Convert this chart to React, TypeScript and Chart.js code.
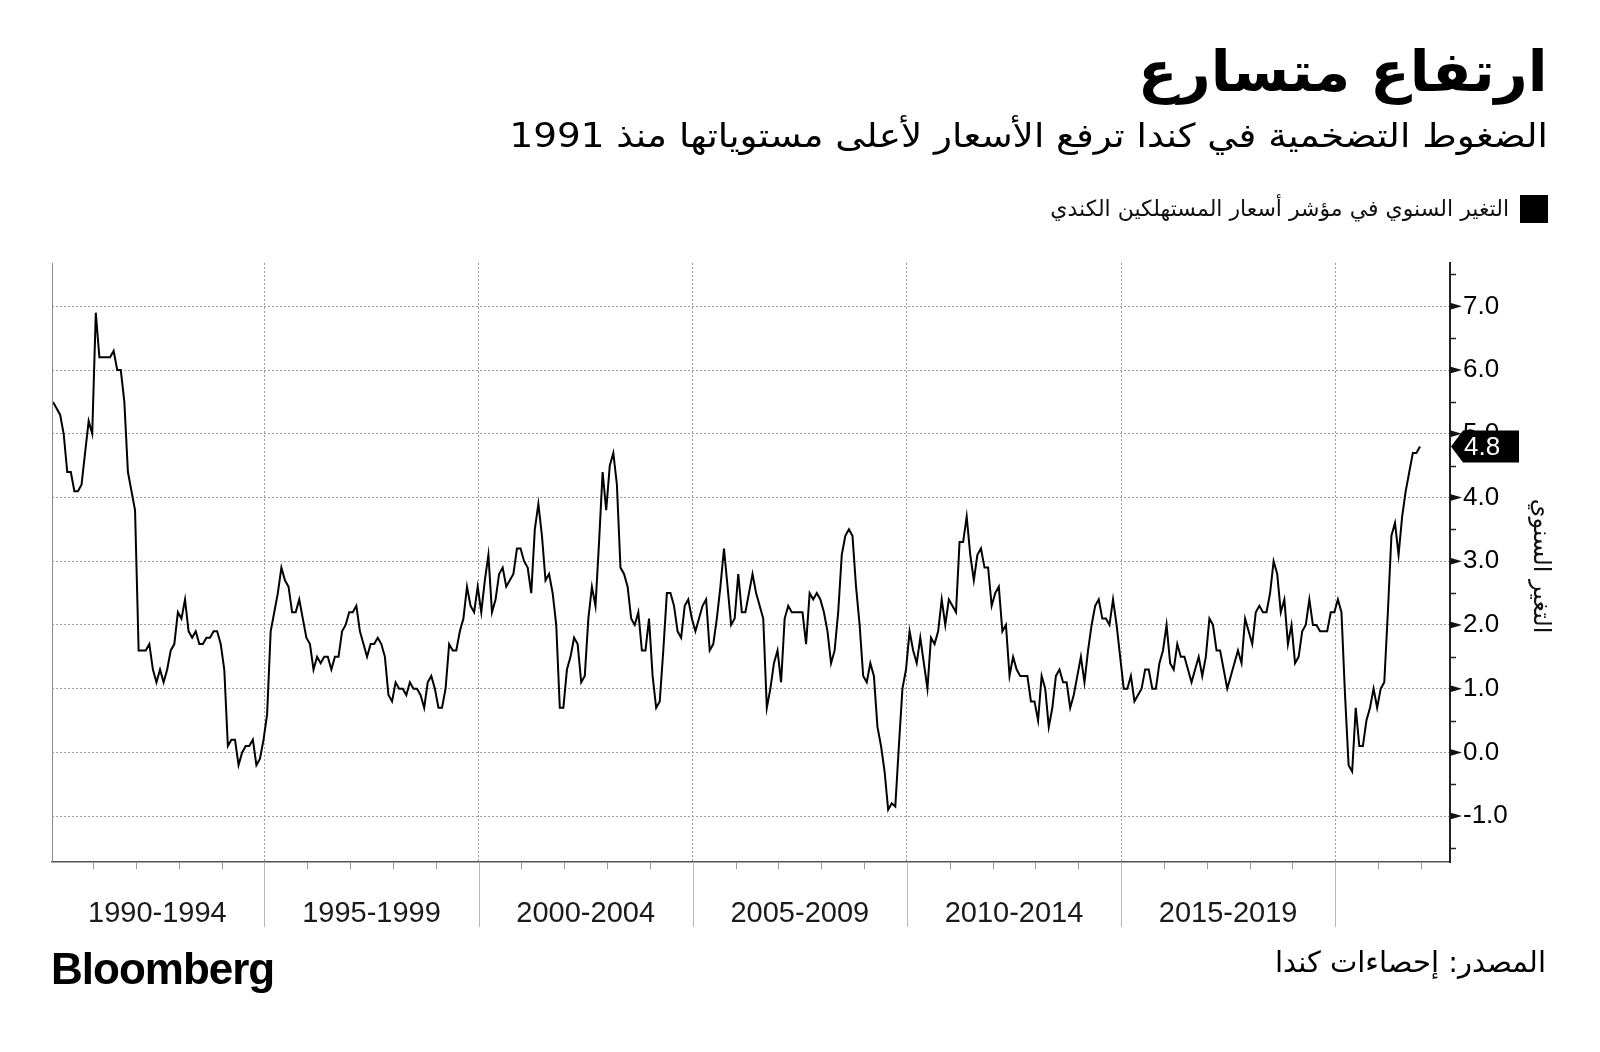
import React, { useEffect, useRef } from "react";
import { Chart, registerables } from "chart.js";

Chart.register(...registerables);

// Canada CPI, year-over-year % change, monthly, Jan 1990 – Dec 2021
const cpi1990to1994 = [
  5.5, 5.4, 5.3, 5.0, 4.4, 4.4, 4.1, 4.1, 4.2, 4.7, 5.2, 5.0,
  6.9, 6.2, 6.2, 6.2, 6.2, 6.3, 6.0, 6.0, 5.5, 4.4, 4.1, 3.8,
  1.6, 1.6, 1.6, 1.7, 1.3, 1.1, 1.3, 1.1, 1.3, 1.6, 1.7, 2.2,
  2.1, 2.4, 1.9, 1.8, 1.9, 1.7, 1.7, 1.8, 1.8, 1.9, 1.9, 1.7,
  1.3, 0.1, 0.2, 0.2, -0.2, 0.0, 0.1, 0.1, 0.2, -0.2, -0.1, 0.2,
];
const cpi1995to1999 = [
  0.6, 1.9, 2.2, 2.5, 2.9, 2.7, 2.6, 2.2, 2.2, 2.4, 2.1, 1.8,
  1.7, 1.3, 1.5, 1.4, 1.5, 1.5, 1.3, 1.5, 1.5, 1.9, 2.0, 2.2,
  2.2, 2.3, 1.9, 1.7, 1.5, 1.7, 1.7, 1.8, 1.7, 1.5, 0.9, 0.8,
  1.1, 1.0, 1.0, 0.9, 1.1, 1.0, 1.0, 0.9, 0.7, 1.1, 1.2, 1.0,
  0.7, 0.7, 1.0, 1.7, 1.6, 1.6, 1.9, 2.1, 2.6, 2.3, 2.2, 2.6,
];
const cpi2000to2004 = [
  2.2, 2.7, 3.1, 2.2, 2.4, 2.8, 2.9, 2.6, 2.7, 2.8, 3.2, 3.2,
  3.0, 2.9, 2.5, 3.5, 3.9, 3.4, 2.7, 2.8, 2.5, 2.0, 0.7, 0.7,
  1.3, 1.5, 1.8, 1.7, 1.1, 1.2, 2.1, 2.6, 2.3, 3.3, 4.4, 3.8,
  4.5, 4.7, 4.2, 2.9, 2.8, 2.6, 2.1, 2.0, 2.2, 1.6, 1.6, 2.1,
  1.2, 0.7, 0.8, 1.6, 2.5, 2.5, 2.3, 1.9, 1.8, 2.3, 2.4, 2.1,
];
const cpi2005to2009 = [
  1.9, 2.1, 2.3, 2.4, 1.6, 1.7, 2.1, 2.6, 3.2, 2.6, 2.0, 2.1,
  2.8, 2.2, 2.2, 2.5, 2.8, 2.5, 2.3, 2.1, 0.7, 1.0, 1.4, 1.6,
  1.1, 2.1, 2.3, 2.2, 2.2, 2.2, 2.2, 1.7, 2.5, 2.4, 2.5, 2.4,
  2.2, 1.9, 1.4, 1.6, 2.2, 3.1, 3.4, 3.5, 3.4, 2.6, 2.0, 1.2,
  1.1, 1.4, 1.2, 0.4, 0.1, -0.3, -0.9, -0.8, -0.85, 0.1, 1.0, 1.3,
];
const cpi2010to2014 = [
  1.9, 1.6, 1.4, 1.8, 1.4, 1.0, 1.8, 1.7, 1.9, 2.4, 2.0, 2.4,
  2.3, 2.2, 3.3, 3.3, 3.7, 3.1, 2.7, 3.1, 3.2, 2.9, 2.9, 2.3,
  2.5, 2.6, 1.9, 2.0, 1.2, 1.5, 1.3, 1.2, 1.2, 1.2, 0.8, 0.8,
  0.5, 1.2, 1.0, 0.4, 0.7, 1.2, 1.3, 1.1, 1.1, 0.7, 0.9, 1.2,
  1.5, 1.1, 1.6, 2.0, 2.3, 2.4, 2.1, 2.1, 2.0, 2.4, 2.0, 1.5,
];
const cpi2015to2019 = [
  1.0, 1.0, 1.2, 0.8, 0.9, 1.0, 1.3, 1.3, 1.0, 1.0, 1.4, 1.6,
  2.0, 1.4, 1.3, 1.7, 1.5, 1.5, 1.3, 1.1, 1.3, 1.5, 1.2, 1.5,
  2.1, 2.0, 1.6, 1.6, 1.3, 1.0, 1.2, 1.4, 1.6, 1.4, 2.1, 1.9,
  1.7, 2.2, 2.3, 2.2, 2.2, 2.5, 3.0, 2.8, 2.2, 2.4, 1.7, 2.0,
  1.4, 1.5, 1.9, 2.0, 2.4, 2.0, 2.0, 1.9, 1.9, 1.9, 2.2, 2.2,
];
const cpi2020to2021 = [
  2.4, 2.2, 0.9, -0.2, -0.3, 0.7, 0.1, 0.1, 0.5, 0.7, 1.0, 0.7,
  1.0, 1.1, 2.2, 3.4, 3.6, 3.1, 3.7, 4.1, 4.4, 4.7, 4.7, 4.8,
];

const firstYear = 1990;
const periodStartYears = [1990, 1995, 2000, 2005, 2010, 2015, 2020];
const periodLabels = ["1990-1994", "1995-1999", "2000-2004", "2005-2009", "2010-2014", "2015-2019"];
const yTickValues = [-1, 0, 1, 2, 3, 4, 5, 6, 7];
const yMinorTickValues = [-1.5, -0.5, 0.5, 1.5, 2.5, 3.5, 4.5, 5.5, 6.5, 7.5];
const yearTicks = [1991, 1992, 1993, 1994, 1996, 1997, 1998, 1999, 2001, 2002, 2003, 2004, 2006, 2007, 2008, 2009, 2011, 2012, 2013, 2014, 2016, 2017, 2018, 2019, 2021, 2022];

const titleText = "ارتفاع متسارع";
const subtitleText = "الضغوط التضخمية في كندا ترفع الأسعار لأعلى مستوياتها منذ 1991";
const legendText = "التغير السنوي في مؤشر أسعار المستهلكين الكندي";
const yAxisTitle = "التغير السنوي";
const sourceText = "المصدر: إحصاءات كندا";
const brandText = "Bloomberg";

const series = [
  ...cpi1990to1994, ...cpi1995to1999, ...cpi2000to2004, ...cpi2005to2009,
  ...cpi2010to2014, ...cpi2015to2019, ...cpi2020to2021,
];
const points = series.map((v, i) => ({ x: firstYear + (i + 0.75) / 12, y: v }));
const lastValue = series[series.length - 1];

const ARABIC = '"DejaVu Sans", sans-serif';
const LATIN = '"Liberation Sans", Arial, sans-serif';

const decorPlugin = {
  id: "decor",
  afterDraw(chart: any) {
    const { ctx, chartArea: a, scales } = chart;
    const x = scales.x;
    const y = scales.y;
    ctx.save();
    // left frame line
    ctx.strokeStyle = "#8c8c8c";
    ctx.lineWidth = 1;
    ctx.beginPath();
    ctx.moveTo(a.left + 0.5, a.top);
    ctx.lineTo(a.left + 0.5, a.bottom);
    ctx.stroke();
    // period separators below the axis
    ctx.strokeStyle = "#b8b8b8";
    for (const yr of periodStartYears.slice(1)) {
      const px = Math.round(x.getPixelForValue(yr)) + 0.5;
      ctx.beginPath();
      ctx.moveTo(px, a.bottom);
      ctx.lineTo(px, a.bottom + 65);
      ctx.stroke();
    }
    // yearly minor ticks
    ctx.strokeStyle = "#9a9a9a";
    for (const yr of yearTicks) {
      const px = Math.round(x.getPixelForValue(yr)) + 0.5;
      ctx.beginPath();
      ctx.moveTo(px, a.bottom);
      ctx.lineTo(px, a.bottom + 7);
      ctx.stroke();
    }
    // period labels
    ctx.fillStyle = "#1a1a1a";
    ctx.font = `29px ${LATIN}`;
    ctx.textAlign = "center";
    ctx.textBaseline = "alphabetic";
    periodLabels.forEach((lab, i) => {
      const cx = x.getPixelForValue(periodStartYears[i] + 2.5);
      ctx.fillText(lab, cx, a.bottom + 60);
    });
    // right axis tick marks
    const ax = a.right;
    ctx.fillStyle = "#111";
    for (const v of yTickValues) {
      const py = y.getPixelForValue(v);
      ctx.beginPath();
      ctx.moveTo(ax, py - 3.5);
      ctx.lineTo(ax + 12, py);
      ctx.lineTo(ax, py + 3.5);
      ctx.closePath();
      ctx.fill();
    }
    ctx.strokeStyle = "#222";
    ctx.lineWidth = 1.5;
    for (const v of yMinorTickValues) {
      const py = Math.round(y.getPixelForValue(v)) + 0.5;
      ctx.beginPath();
      ctx.moveTo(ax, py);
      ctx.lineTo(ax + 6, py);
      ctx.stroke();
    }
    // last value flag
    const ly = y.getPixelForValue(lastValue);
    ctx.fillStyle = "#000";
    ctx.beginPath();
    ctx.moveTo(ax + 1, ly);
    ctx.lineTo(ax + 13, ly - 16);
    ctx.lineTo(ax + 69, ly - 16);
    ctx.lineTo(ax + 69, ly + 16);
    ctx.lineTo(ax + 13, ly + 16);
    ctx.closePath();
    ctx.fill();
    ctx.fillStyle = "#fff";
    ctx.font = `26px ${LATIN}`;
    ctx.textAlign = "left";
    ctx.textBaseline = "middle";
    ctx.fillText(lastValue.toFixed(1), ax + 14, ly + 1);
    // rotated axis title
    ctx.save();
    ctx.translate(1540, 566);
    ctx.rotate(Math.PI / 2);
    ctx.fillStyle = "#111";
    ctx.font = `24px ${ARABIC}`;
    ctx.textAlign = "center";
    ctx.textBaseline = "middle";
    ctx.fillText(yAxisTitle, 0, 0);
    ctx.restore();
    ctx.restore();
  },
};

export default function App() {
  const ref = useRef<HTMLCanvasElement>(null);
  useEffect(() => {
    if (!ref.current) return;
    const chart = new Chart(ref.current, {
      type: "line",
      data: {
        datasets: [
          {
            data: points,
            borderColor: "#000",
            borderWidth: 2,
            pointRadius: 0,
            tension: 0,
            fill: false,
          },
        ],
      },
      options: {
        responsive: false,
        animation: false,
        devicePixelRatio: 1,
        parsing: false,
        layout: { padding: { left: 52, top: 263, right: 50, bottom: 120 } },
        plugins: { legend: { display: false }, tooltip: { enabled: false }, title: { display: false } },
        scales: {
          x: {
            type: "linear",
            min: 1990.04,
            max: 2022.68,
            afterBuildTicks: (s: any) => {
              s.ticks = periodStartYears.slice(1).map((v) => ({ value: v }));
            },
            afterFit: (s: any) => {
              s.height = 70;
            },
            ticks: { display: false },
            grid: { color: "#9e9e9e", lineWidth: 1, drawTicks: false },
            border: { display: true, color: "#555", width: 1.5, dash: [2, 2] },
          },
          y: {
            type: "linear",
            position: "right",
            min: -1.72,
            max: 7.68,
            afterBuildTicks: (s: any) => {
              s.ticks = yTickValues.map((v) => ({ value: v }));
            },
            afterFit: (s: any) => {
              s.width = 100;
            },
            ticks: {
              padding: 13,
              color: "#000",
              font: { family: "Liberation Sans", size: 26 },
              callback: (v: any) => Number(v).toFixed(1),
            },
            grid: { color: "#9e9e9e", lineWidth: 1, drawTicks: false },
            border: { display: true, color: "#222", width: 2, dash: [2, 2] },
          },
        },
      },
      plugins: [decorPlugin],
    });
    return () => chart.destroy();
  }, []);

  return (
    <div style={{ position: "absolute", left: 0, top: 0, width: 1600, height: 1052, background: "#fff", overflow: "hidden" }}>
      <canvas ref={ref} width={1600} height={1052} style={{ position: "absolute", left: 0, top: 0, width: 1600, height: 1052 }} />
      <div dir="rtl" style={{ position: "absolute", right: 52, top: 44, font: `bold 56px ${ARABIC}`, lineHeight: 1, whiteSpace: "nowrap", color: "#000", transform: "scaleX(1.03)", transformOrigin: "right center" }}>
        {titleText}
      </div>
      <div dir="rtl" style={{ position: "absolute", right: 52, top: 119, font: `33px ${ARABIC}`, lineHeight: 1, whiteSpace: "nowrap", color: "#000", transform: "scaleX(1.13)", transformOrigin: "right center" }}>
        {subtitleText}
      </div>
      <div style={{ position: "absolute", left: 1520, top: 195, width: 28, height: 28, background: "#000" }} />
      <div dir="rtl" style={{ position: "absolute", right: 91, top: 198, font: `22px ${ARABIC}`, lineHeight: 1, whiteSpace: "nowrap", color: "#111" }}>
        {legendText}
      </div>
      <div dir="rtl" style={{ position: "absolute", right: 54, top: 948, font: `29px ${ARABIC}`, lineHeight: 1, whiteSpace: "nowrap", color: "#000" }}>
        {sourceText}
      </div>
      <div style={{ position: "absolute", left: 51, top: 947, font: `bold 44px ${LATIN}`, lineHeight: 1, letterSpacing: -1, whiteSpace: "nowrap", color: "#000" }}>
        {brandText}
      </div>
    </div>
  );
}
